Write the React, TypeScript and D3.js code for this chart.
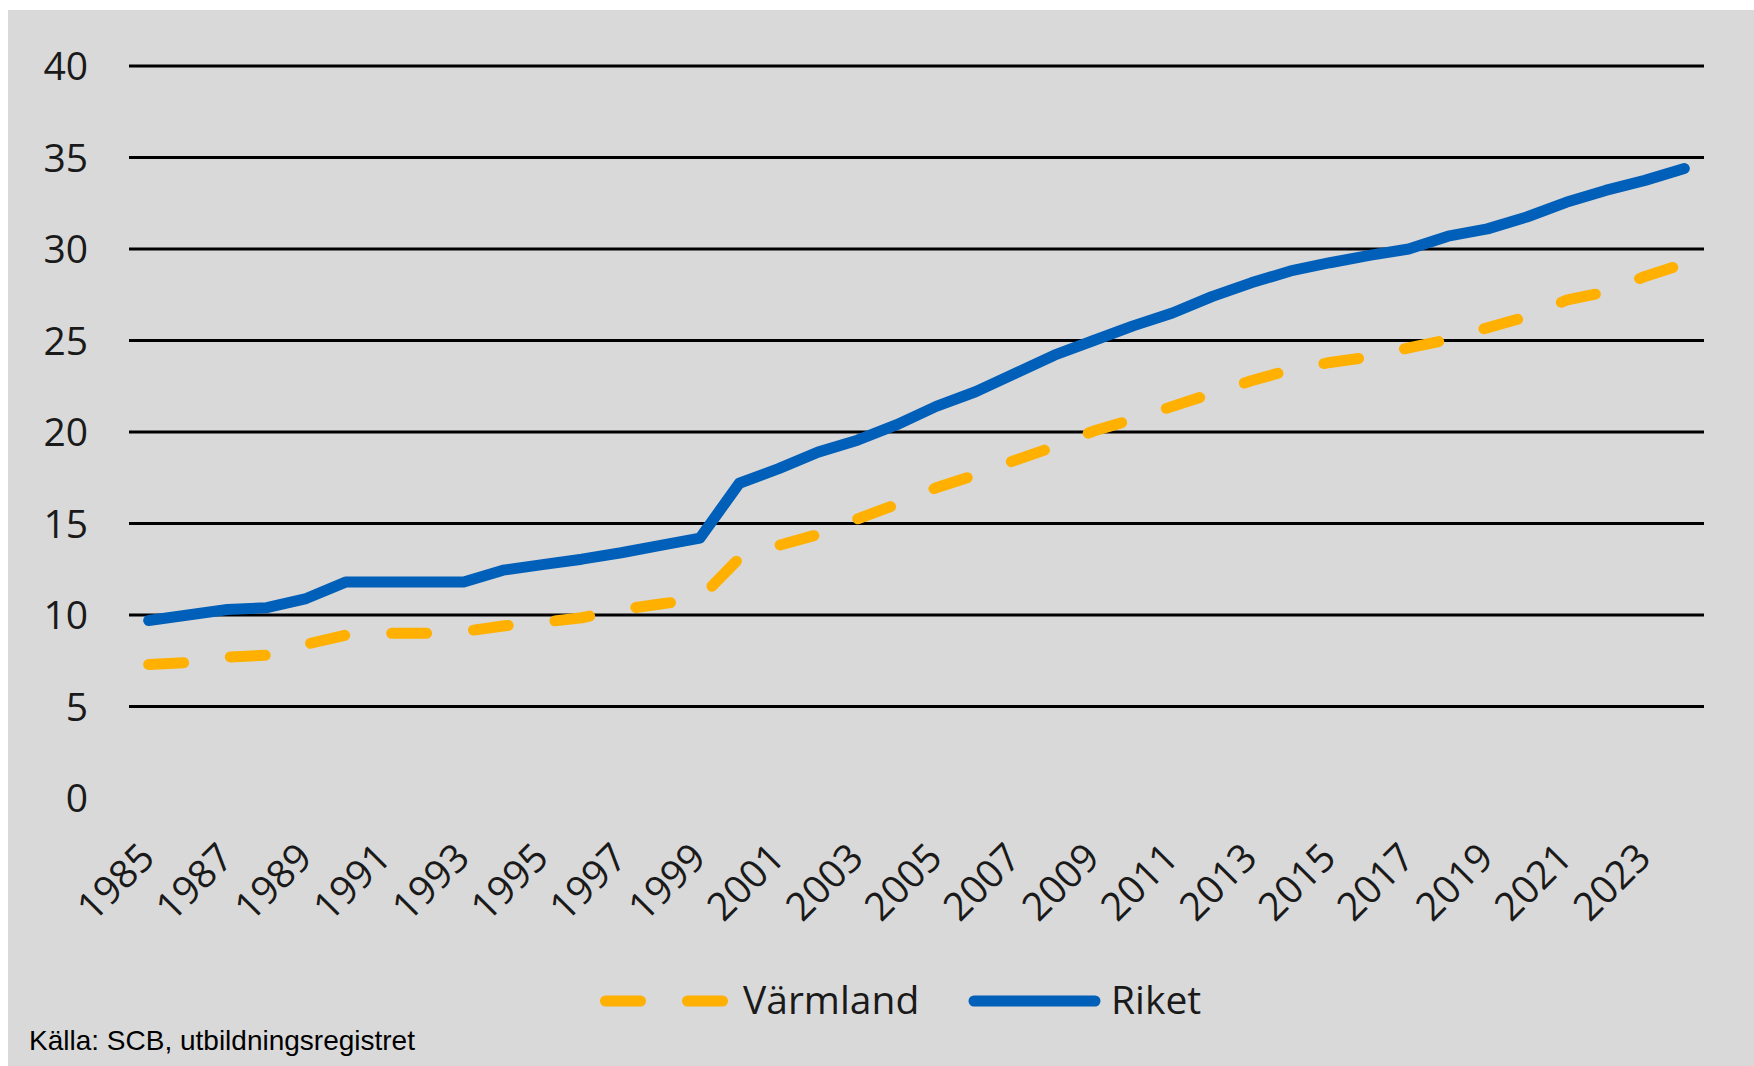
import React from 'react';
import * as d3 from 'd3';

// years 1985-2024
const years: number[] = [
  1985, 1986, 1987, 1988, 1989, 1990, 1991, 1992, 1993, 1994,
  1995, 1996, 1997, 1998, 1999, 2000, 2001, 2002, 2003, 2004,
  2005, 2006, 2007, 2008, 2009, 2010, 2011, 2012, 2013, 2014,
  2015, 2016, 2017, 2018, 2019, 2020, 2021, 2022, 2023, 2024,
];

const varmland: number[] = [
  7.3, 7.4, 7.7, 7.8, 8.4, 8.9, 9.0, 9.0, 9.1, 9.4,
  9.6, 9.85, 10.3, 10.6, 10.9, 13.1, 13.8, 14.4, 15.25, 16.05,
  16.95, 17.65, 18.45, 19.2, 20.05, 20.7, 21.4, 22.1, 22.8, 23.4,
  23.8, 24.1, 24.6, 25.05, 25.7, 26.3, 27.2, 27.65, 28.5, 29.2,
];

const riket: number[] = [
  9.7, 10.0, 10.3, 10.4, 10.9, 11.8, 11.8, 11.8, 11.8, 12.45,
  12.75, 13.05, 13.4, 13.8, 14.2, 17.2, 18.0, 18.9, 19.55, 20.4,
  21.4, 22.2, 23.2, 24.2, 25.0, 25.8, 26.5, 27.4, 28.15, 28.8,
  29.25, 29.65, 30.0, 30.7, 31.1, 31.75, 32.55, 33.2, 33.75, 34.4,
];

const yTicks: number[] = [0, 5, 10, 15, 20, 25, 30, 35, 40];
const xTickYears: number[] = years.filter((y, i) => i % 2 === 0);

const seriesNames = ['Värmland', 'Riket'];
const sourceNote = 'Källa: SCB, utbildningsregistret';

const W = 1754;
const H = 1066;
const FONT = "'Open Sans', 'Noto Sans', sans-serif";

const App = () => {
  const x = d3.scalePoint<number>().domain(years).range([129, 1704]).padding(0.5);
  const y = d3.scaleLinear().domain([0, 40]).range([798, 66]);

  const line = d3.line<number>()
    .x((d, i) => x(years[i]) as number)
    .y(d => y(d));

  return (
    <svg width={W} height={H} style={{ position: 'absolute', left: 0, top: 0 }}>
      <rect x={0} y={0} width={W} height={H} fill="#ffffff" />
      <rect x={8} y={10} width={W - 8} height={H - 10} fill="#d9d9d9" />

      {/* gridlines */}
      {yTicks.filter(t => t > 0).map(t => (
        <line key={'g' + t} x1={129} x2={1704} y1={y(t)} y2={y(t)} stroke="#000" strokeWidth={3} />
      ))}

      {/* y labels */}
      {yTicks.map(t => (
        <text key={'yl' + t} x={88} y={y(t) + 14} textAnchor="end" fontFamily={FONT} fontSize={39} fill="#1a1a1a">
          {t}
        </text>
      ))}

      {/* x labels */}
      {xTickYears.map(yr => (
        <text key={'xl' + yr} transform={`translate(${(x(yr) as number) + 8},860) rotate(-45)`}
          textAnchor="end" fontFamily={FONT} fontSize={39} fill="#1a1a1a">
          {yr}
        </text>
      ))}

      {/* lines */}
      <path d={line(varmland) || ''} fill="none" stroke="#ffb000" strokeWidth={11}
        strokeDasharray="35,47" strokeLinecap="round" strokeLinejoin="round" />
      <path d={line(riket) || ''} fill="none" stroke="#005fb9" strokeWidth={11}
        strokeLinecap="round" strokeLinejoin="round" />

      {/* legend */}
      <line x1={605.5} x2={722.5} y1={1001} y2={1001} stroke="#ffb000" strokeWidth={11}
        strokeDasharray="35,47" strokeLinecap="round" />
      <text x={743} y={1014} fontFamily={FONT} fontSize={39} fill="#1a1a1a">{seriesNames[0]}</text>
      <line x1={974} x2={1095} y1={1001} y2={1001} stroke="#005fb9" strokeWidth={11} strokeLinecap="round" />
      <text x={1111} y={1014} fontFamily={FONT} fontSize={39} fill="#1a1a1a">{seriesNames[1]}</text>

      {/* source */}
      <text x={29} y={1050} fontFamily="'Liberation Sans', Arial, sans-serif" fontSize={28} fill="#000">
        {sourceNote}
      </text>
    </svg>
  );
};

export default App;
